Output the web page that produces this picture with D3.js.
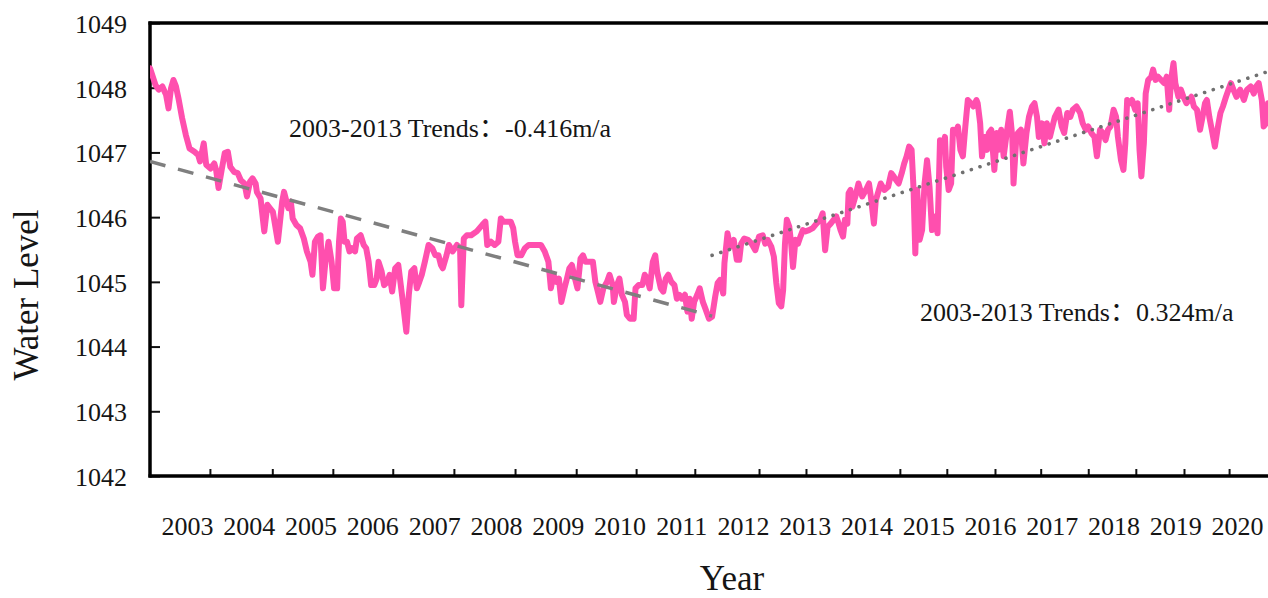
<!DOCTYPE html>
<html>
<head>
<meta charset="utf-8">
<script src="https://cdn.jsdelivr.net/npm/d3@7"></script>
<style>
  html, body { margin: 0; padding: 0; background: #fff; }
  svg { display: block; font-family: "Liberation Serif", "Times New Roman", "Noto Sans CJK SC", serif; }
</style>
</head>
<body>
<svg id="chart" width="1268" height="598"></svg>
<script>
// Water level record, [year, level in m], first half (falling phase)
const period1 = [
  [2002.40,1048.30],[2002.49,1048.04],[2002.54,1047.97],[2002.60,1048.02],[2002.66,1047.89],[2002.70,1047.68],
  [2002.74,1047.99],[2002.78,1048.12],[2002.82,1048.02],[2002.86,1047.84],[2002.92,1047.53],[2002.98,1047.27],
  [2003.04,1047.06],[2003.12,1047.01],[2003.18,1046.96],[2003.21,1046.86],[2003.27,1047.14],[2003.31,1046.81],
  [2003.38,1046.75],[2003.44,1046.83],[2003.47,1046.73],[2003.51,1046.45],[2003.56,1046.73],[2003.61,1046.99],
  [2003.66,1047.01],[2003.70,1046.78],[2003.76,1046.70],[2003.82,1046.68],[2003.87,1046.57],[2003.93,1046.52],
  [2003.97,1046.32],[2004.02,1046.55],[2004.06,1046.60],[2004.11,1046.52],[2004.13,1046.39],[2004.19,1046.29],
  [2004.25,1045.78],[2004.30,1046.19],[2004.34,1046.14],[2004.39,1046.08],[2004.47,1045.62],[2004.54,1046.24],
  [2004.57,1046.39],[2004.61,1046.24],[2004.64,1046.14],[2004.68,1046.24],[2004.71,1045.98],[2004.77,1045.88],
  [2004.83,1045.83],[2004.89,1045.67],[2004.94,1045.47],[2005.00,1045.31],[2005.03,1045.11],[2005.07,1045.62],
  [2005.12,1045.70],[2005.16,1045.72],[2005.20,1044.90],[2005.24,1045.31],[2005.29,1045.62],[2005.34,1045.31],
  [2005.38,1044.90],[2005.43,1044.90],[2005.46,1045.62],[2005.49,1045.98],[2005.52,1045.93],[2005.55,1045.62],
  [2005.59,1045.62],[2005.63,1045.47],[2005.67,1045.52],[2005.72,1045.47],[2005.75,1045.67],[2005.81,1045.72],
  [2005.86,1045.57],[2005.90,1045.52],[2005.94,1045.31],[2005.98,1044.95],[2006.03,1044.95],[2006.07,1045.05],
  [2006.10,1045.31],[2006.15,1045.16],[2006.19,1044.95],[2006.24,1045.00],[2006.28,1045.11],[2006.32,1044.85],
  [2006.37,1045.21],[2006.42,1045.26],[2006.46,1044.95],[2006.50,1044.64],[2006.55,1044.23],[2006.59,1044.80],
  [2006.63,1045.16],[2006.68,1045.21],[2006.72,1044.90],[2006.76,1045.00],[2006.80,1045.11],[2006.85,1045.31],
  [2006.91,1045.57],[2006.97,1045.52],[2007.02,1045.41],[2007.07,1045.41],[2007.11,1045.26],[2007.14,1045.21],
  [2007.20,1045.41],[2007.24,1045.57],[2007.30,1045.47],[2007.37,1045.57],[2007.42,1045.52],[2007.44,1044.64],
  [2007.48,1045.67],[2007.53,1045.72],[2007.60,1045.72],[2007.69,1045.78],[2007.78,1045.88],[2007.83,1045.93],
  [2007.86,1045.57],[2007.92,1045.62],[2007.98,1045.57],[2008.04,1045.62],[2008.08,1045.98],[2008.12,1045.93],
  [2008.18,1045.93],[2008.24,1045.93],[2008.28,1045.83],[2008.31,1045.62],[2008.35,1045.41],[2008.41,1045.41],
  [2008.47,1045.52],[2008.53,1045.57],[2008.61,1045.57],[2008.67,1045.57],[2008.73,1045.57],[2008.79,1045.47],
  [2008.85,1045.31],[2008.89,1044.90],[2008.93,1045.11],[2008.98,1045.00],[2009.02,1045.05],[2009.06,1044.69],
  [2009.11,1044.90],[2009.15,1045.05],[2009.19,1045.21],[2009.23,1045.26],[2009.28,1045.05],[2009.32,1044.90],
  [2009.37,1045.36],[2009.41,1045.41],[2009.45,1045.31],[2009.51,1045.31],[2009.57,1045.31],[2009.61,1045.00],
  [2009.65,1044.85],[2009.69,1044.69],[2009.74,1044.90],[2009.80,1045.00],[2009.84,1045.11],[2009.89,1044.95],
  [2009.91,1044.69],[2009.96,1044.95],[2010.00,1045.05],[2010.04,1044.80],[2010.09,1044.69],[2010.12,1044.49],
  [2010.17,1044.43],[2010.23,1044.43],[2010.26,1044.90],[2010.31,1044.95],[2010.37,1044.95],[2010.41,1045.11],
  [2010.45,1045.05],[2010.49,1044.90],[2010.54,1045.31],[2010.58,1045.41],[2010.61,1045.16],[2010.67,1044.90],
  [2010.71,1044.85],[2010.75,1045.05],[2010.79,1045.11],[2010.84,1045.00],[2010.89,1044.95],[2010.93,1044.74],
  [2010.97,1044.80],[2011.01,1044.74],[2011.06,1044.80],[2011.10,1044.54],[2011.14,1044.74],[2011.17,1044.43],
  [2011.21,1044.69],[2011.26,1044.80],[2011.30,1044.90],[2011.35,1044.69],[2011.39,1044.59],[2011.45,1044.43]
];

// Second half (rising phase)
const period2 = [
  [2011.50,1044.46],[2011.55,1044.77],[2011.59,1044.98],[2011.63,1045.03],[2011.68,1044.82],[2011.70,1045.29],
  [2011.75,1045.75],[2011.79,1045.54],[2011.85,1045.65],[2011.90,1045.34],[2011.94,1045.34],[2011.97,1045.59],
  [2012.02,1045.67],[2012.08,1045.65],[2012.14,1045.59],[2012.20,1045.49],[2012.26,1045.70],[2012.32,1045.72],
  [2012.36,1045.59],[2012.40,1045.65],[2012.46,1045.54],[2012.50,1045.39],[2012.54,1044.98],[2012.58,1044.67],
  [2012.62,1044.62],[2012.65,1044.87],[2012.68,1045.59],[2012.71,1045.96],[2012.75,1045.85],[2012.78,1045.59],
  [2012.81,1045.23],[2012.85,1045.65],[2012.89,1045.59],[2012.93,1045.70],[2012.97,1045.80],[2013.01,1045.78],
  [2013.07,1045.80],[2013.13,1045.83],[2013.19,1045.90],[2013.25,1045.96],[2013.29,1046.06],[2013.33,1045.49],
  [2013.37,1045.85],[2013.42,1045.90],[2013.47,1045.96],[2013.51,1046.01],[2013.55,1045.90],[2013.58,1045.80],
  [2013.62,1045.70],[2013.65,1045.96],[2013.69,1045.90],[2013.71,1046.37],[2013.74,1046.42],[2013.77,1046.16],
  [2013.82,1046.32],[2013.87,1046.52],[2013.93,1046.32],[2013.99,1046.42],[2014.04,1046.52],[2014.07,1046.32],
  [2014.12,1045.90],[2014.15,1046.26],[2014.20,1046.42],[2014.23,1046.52],[2014.29,1046.42],[2014.35,1046.47],
  [2014.40,1046.68],[2014.44,1046.63],[2014.48,1046.57],[2014.52,1046.52],[2014.57,1046.68],[2014.61,1046.83],
  [2014.65,1046.94],[2014.69,1047.09],[2014.73,1047.04],[2014.76,1046.47],[2014.79,1045.44],[2014.82,1046.42],
  [2014.86,1045.65],[2014.90,1045.80],[2014.94,1046.52],[2014.98,1046.88],[2015.02,1046.47],[2015.06,1045.80],
  [2015.11,1046.01],[2015.15,1045.75],[2015.19,1047.19],[2015.23,1047.04],[2015.27,1047.24],[2015.29,1046.78],
  [2015.33,1046.42],[2015.37,1046.52],[2015.40,1047.35],[2015.44,1047.30],[2015.48,1047.40],[2015.52,1047.04],
  [2015.56,1046.94],[2015.60,1047.40],[2015.64,1047.81],[2015.69,1047.76],[2015.73,1047.71],[2015.78,1047.81],
  [2015.80,1047.76],[2015.84,1047.45],[2015.87,1046.94],[2015.91,1047.24],[2015.95,1047.04],[2015.98,1047.30],
  [2016.02,1047.35],[2016.07,1046.73],[2016.11,1047.30],[2016.14,1047.04],[2016.18,1047.35],[2016.22,1046.94],
  [2016.27,1047.30],[2016.32,1047.63],[2016.36,1047.24],[2016.38,1046.52],[2016.42,1047.14],[2016.45,1047.30],
  [2016.50,1047.35],[2016.54,1046.83],[2016.59,1047.30],[2016.63,1047.55],[2016.68,1047.71],[2016.72,1047.76],
  [2016.76,1047.55],[2016.79,1047.24],[2016.84,1047.45],[2016.88,1047.14],[2016.92,1047.45],[2016.97,1047.24],
  [2017.01,1047.40],[2017.05,1047.55],[2017.11,1047.66],[2017.16,1047.40],[2017.20,1047.30],[2017.25,1047.61],
  [2017.30,1047.55],[2017.34,1047.66],[2017.40,1047.71],[2017.46,1047.61],[2017.50,1047.45],[2017.55,1047.35],
  [2017.59,1047.40],[2017.64,1047.30],[2017.69,1047.24],[2017.73,1046.94],[2017.78,1047.35],[2017.83,1047.30],
  [2017.87,1047.19],[2017.91,1047.35],[2017.95,1047.40],[2018.00,1047.66],[2018.04,1047.55],[2018.07,1047.24],
  [2018.12,1046.88],[2018.16,1046.73],[2018.19,1047.14],[2018.22,1047.81],[2018.26,1047.76],[2018.30,1047.81],
  [2018.35,1047.66],[2018.39,1047.76],[2018.42,1047.04],[2018.45,1046.63],[2018.49,1047.14],[2018.52,1047.91],
  [2018.56,1048.12],[2018.61,1048.17],[2018.64,1048.28],[2018.68,1048.12],[2018.72,1048.17],[2018.77,1048.12],
  [2018.82,1048.07],[2018.86,1048.17],[2018.90,1047.66],[2018.93,1048.12],[2018.97,1048.38],[2019.00,1048.07],
  [2019.05,1047.86],[2019.09,1047.97],[2019.13,1047.86],[2019.18,1047.76],[2019.22,1047.81],[2019.26,1047.86],
  [2019.30,1047.71],[2019.35,1047.66],[2019.40,1047.35],[2019.44,1047.55],[2019.48,1047.76],[2019.51,1047.81],
  [2019.55,1047.55],[2019.59,1047.35],[2019.64,1047.09],[2019.69,1047.40],[2019.73,1047.61],[2019.77,1047.71],
  [2019.82,1047.86],[2019.86,1047.97],[2019.90,1048.07],[2019.94,1047.97],[2019.99,1047.86],[2020.05,1047.97],
  [2020.11,1047.81],[2020.16,1047.97],[2020.22,1048.02],[2020.27,1047.91],[2020.31,1048.02],[2020.35,1048.07],
  [2020.40,1047.81],[2020.43,1047.40],[2020.47,1047.45],[2020.50,1047.76]
];

// Linear trend segments, [year, level]
const declineTrend = [[2002.40, 1046.86], [2011.50, 1044.47]];
const riseTrend    = [[2011.50, 1045.41], [2020.50, 1048.25]];

const levelTicks = [1042, 1043, 1044, 1045, 1046, 1047, 1048, 1049];
const yearLabels = [2003, 2004, 2005, 2006, 2007, 2008, 2009, 2010, 2011, 2012,
                    2013, 2014, 2015, 2016, 2017, 2018, 2019, 2020];
const yearTickMarks = [2003.37, 2004.38, 2005.36, 2006.33, 2007.32, 2008.31, 2009.30, 2010.27, 2011.22,
                       2012.26, 2013.02, 2013.76, 2014.54, 2015.30, 2016.08, 2016.82, 2017.59, 2018.36,
                       2019.14, 2019.87];
const trendNotes = ["2003-2013 Trends：-0.416m/a", "2003-2013 Trends：0.324m/a"];

const svg = d3.select("#chart");
const plot = { left: 150, right: 1268, top: 23, bottom: 476 };

const x = d3.scaleLinear().domain([2002.4, 2020.5]).range([plot.left, plot.right]);
const y = d3.scaleLinear().domain([1042, 1049]).range([plot.bottom, plot.top]);

svg.append("defs").append("clipPath").attr("id", "plotClip")
  .append("rect")
  .attr("x", plot.left).attr("y", plot.top)
  .attr("width", plot.right - plot.left).attr("height", plot.bottom - plot.top);

const textColor = "#151515";
const serif = "Liberation Serif, Times New Roman, Noto Sans CJK SC, serif";

// Y axis: inward ticks, labels on the left
const yAxis = svg.append("g")
  .attr("transform", `translate(${plot.left},0)`)
  .call(d3.axisLeft(y).tickValues(levelTicks).tickSize(-10).tickPadding(23).tickFormat(d3.format("d")));
yAxis.select(".domain").remove();
yAxis.selectAll(".tick line").attr("stroke", "#111").attr("stroke-width", 2);
yAxis.selectAll(".tick text")
  .attr("font-size", 26).attr("fill", textColor)
  .attr("font-family", serif)
  .attr("dy", "0.36em");

// X axis tick marks (inward)
const xMarks = svg.append("g")
  .attr("transform", `translate(0,${plot.bottom})`)
  .call(d3.axisBottom(x).tickValues(yearTickMarks).tickSize(-7).tickFormat(""));
xMarks.select(".domain").remove();
xMarks.selectAll(".tick line").attr("stroke", "#111").attr("stroke-width", 2);

// X axis year labels
const xLabels = svg.append("g")
  .attr("transform", `translate(0,${plot.bottom})`)
  .call(d3.axisBottom(x).tickValues(yearLabels).tickSize(0).tickFormat(d3.format("d")));
xLabels.select(".domain").remove();
xLabels.selectAll(".tick text")
  .attr("font-size", 26).attr("fill", textColor)
  .attr("font-family", serif)
  .attr("dy", null).attr("y", 59);

// Frame lines: left, bottom, top
const frame = svg.append("g").attr("stroke", "#000").attr("stroke-width", 3.5).attr("fill", "none");
frame.append("line").attr("x1", plot.left).attr("x2", plot.left).attr("y1", plot.top - 1.5).attr("y2", plot.bottom + 1.5);
frame.append("line").attr("x1", plot.left - 1.5).attr("x2", plot.right + 10).attr("y1", plot.bottom).attr("y2", plot.bottom);
frame.append("line").attr("x1", plot.left - 1.5).attr("x2", plot.right + 10).attr("y1", plot.top).attr("y2", plot.top);

const line = d3.line().x(d => x(d[0])).y(d => y(d[1]));
const gPlot = svg.append("g").attr("clip-path", "url(#plotClip)");

// Water level series
gPlot.append("path")
  .datum(period1.concat(period2))
  .attr("fill", "none")
  .attr("stroke", "#ff4fae")
  .attr("stroke-width", 6)
  .attr("stroke-linejoin", "round")
  .attr("stroke-linecap", "round")
  .attr("d", line);

// Trend lines
gPlot.append("path")
  .datum(declineTrend)
  .attr("fill", "none")
  .attr("stroke", "#7f7f7f")
  .attr("stroke-width", 3.5)
  .attr("stroke-dasharray", "16 13")
  .attr("d", line);

gPlot.append("path")
  .datum(riseTrend)
  .attr("fill", "none")
  .attr("stroke", "#707070")
  .attr("stroke-width", 3.6)
  .attr("stroke-linecap", "round")
  .attr("stroke-dasharray", "0.1 9")
  .attr("d", line);

// Trend annotations
const notes = svg.append("g")
  .attr("font-size", 26).attr("fill", textColor)
  .attr("font-family", serif);
notes.append("text").attr("x", 289).attr("y", 137).text(trendNotes[0]);
notes.append("text").attr("x", 920).attr("y", 321).text(trendNotes[1]);

// Axis titles
svg.append("text")
  .attr("x", 732).attr("y", 590)
  .attr("text-anchor", "middle")
  .attr("font-family", serif)
  .attr("font-size", 35).attr("fill", textColor)
  .text("Year");

svg.append("text")
  .attr("transform", "translate(38,295) rotate(-90)")
  .attr("text-anchor", "middle")
  .attr("font-family", serif)
  .attr("font-size", 35).attr("fill", textColor)
  .text("Water Level");
</script>
</body>
</html>
